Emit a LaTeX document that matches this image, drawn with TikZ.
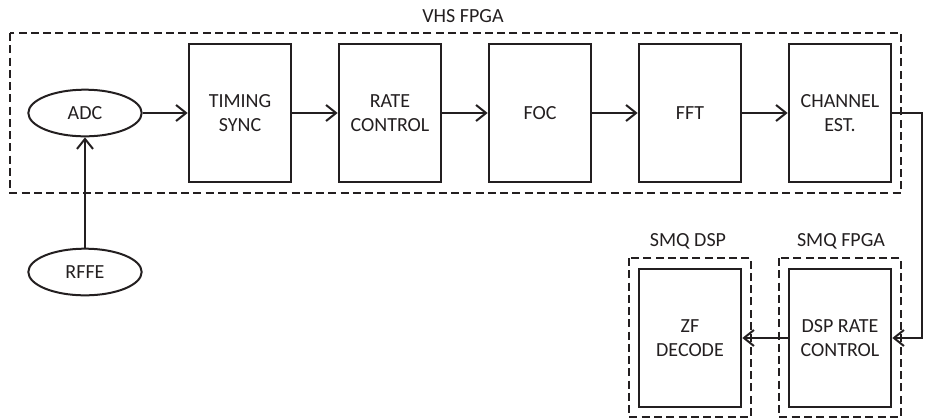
\documentclass[tikz,border=0pt]{standalone}
\usepackage{fontspec}
\setmainfont{Carlito}
\usetikzlibrary{arrows.meta,shapes.geometric}
\definecolor{inkgray}{RGB}{35,31,32}
\tikzset{
  block/.style={draw=inkgray, line width=1.5pt, text=inkgray, align=center,
    minimum width=77pt, minimum height=104pt, inner sep=0pt},
  oval/.style={ellipse, draw=inkgray, line width=1.5pt, text=inkgray,
    minimum width=85pt, minimum height=35pt, inner sep=0pt},
  group/.style={draw=inkgray, line width=1.4pt, dash pattern=on 6pt off 3.2pt},
  grouptitle/.style={text=inkgray, inner sep=0pt},
  flow/.style={draw=inkgray, line width=1.5pt,
    -{Straight Barb[length=7.5pt,width=12pt,line width=1.5pt]}}
}
\begin{document}
\begin{tikzpicture}[x=0.75pt,y=-0.75pt,font=\fontsize{15}{17.5}\selectfont]
    \useasboundingbox (0,0) rectangle (926,419);
    % FPGA / DSP groups
    \draw[group] (10,33) rectangle (901,193);
    \node[grouptitle] (vhs) at (463,16) {VHS FPGA};
    \draw[group] (629,258) rectangle (751,417);
    \node[grouptitle] (smqdsp) at (688,241) {SMQ DSP};
    \draw[group] (779,258) rectangle (901,417);
    \node[grouptitle] (smqfpga) at (841,241) {SMQ FPGA};
    % Front end
    \node[oval] (adc) at (85,113) {ADC};
    \node[oval] (rffe) at (85,272) {RFFE};
    % Receiver chain
    \node[block] (timing) at (240,113) {TIMING\\SYNC};
    \node[block] (rate) at (390,113) {RATE\\CONTROL};
    \node[block] (foc) at (540,113) {FOC};
    \node[block] (fft) at (690,113) {FFT};
    \node[block] (chest) at (840,113) {CHANNEL\\EST.};
    \node[block] (dsprate) at (840,338) {DSP RATE\\CONTROL};
    \node[block] (zf) at (690,338) {ZF\\DECODE};
    % Connections
    \draw[flow] (rffe) -- (adc);
    \draw[flow] (adc) -- (timing);
    \draw[flow] (timing) -- (rate);
    \draw[flow] (rate) -- (foc);
    \draw[flow] (foc) -- (fft);
    \draw[flow] (fft) -- (chest);
    \coordinate (turn) at (922,113);
    \draw[flow] (chest.east) -- (turn) |- (dsprate.east);
    \draw[flow] (dsprate) -- (zf);
\end{tikzpicture}
\end{document}
